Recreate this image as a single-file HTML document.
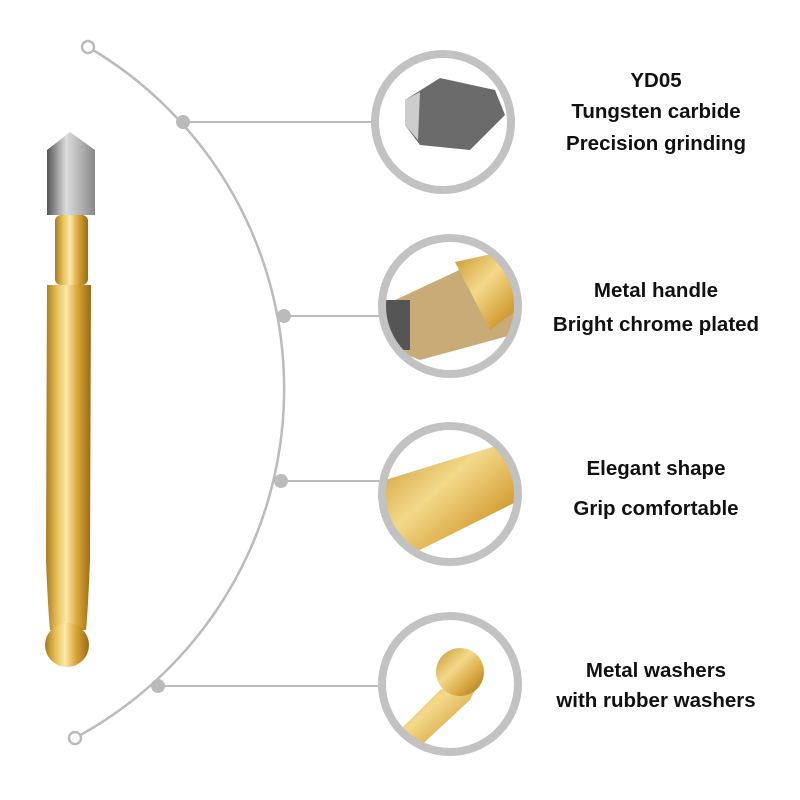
<!DOCTYPE html>
<html><head><meta charset="utf-8"><style>
html,body{margin:0;padding:0;background:#fff;width:800px;height:800px;overflow:hidden}
</style></head><body>
<svg width="800" height="800" viewBox="0 0 800 800" xmlns="http://www.w3.org/2000/svg">
<defs>
<linearGradient id="gold" x1="0" x2="1" y1="0" y2="0">
<stop offset="0" stop-color="#a87a1c"/><stop offset="0.25" stop-color="#e8c25a"/><stop offset="0.45" stop-color="#fbe9a8"/><stop offset="0.7" stop-color="#d9a53a"/><stop offset="1" stop-color="#9a6a12"/></linearGradient>
<linearGradient id="gold2" x1="0" x2="1" y1="0" y2="1">
<stop offset="0" stop-color="#c9962e"/><stop offset="0.4" stop-color="#f3d98a"/><stop offset="0.7" stop-color="#d8a640"/><stop offset="1" stop-color="#a27418"/></linearGradient>
<linearGradient id="steel" x1="0" x2="1"><stop offset="0" stop-color="#555"/><stop offset="0.4" stop-color="#ddd"/><stop offset="1" stop-color="#888"/></linearGradient>
<clipPath id="c1"><circle cx="443" cy="122" r="66"/></clipPath>
<clipPath id="c2"><circle cx="450" cy="306" r="66"/></clipPath>
<clipPath id="c3"><circle cx="450" cy="494" r="66"/></clipPath>
<clipPath id="c4"><circle cx="450" cy="684" r="66"/></clipPath>
</defs>
<path d="M88,47 A396,396 0 0 1 75,738" fill="none" stroke="#bbb" stroke-width="2.5"/>
<circle cx="88" cy="47" r="6" fill="#fff" stroke="#bbb" stroke-width="2.5"/>
<circle cx="75" cy="738" r="6" fill="#fff" stroke="#bbb" stroke-width="2.5"/>
<g stroke="#bbb" stroke-width="2">
<line x1="183" y1="122" x2="375" y2="122"/><line x1="284" y1="316" x2="380" y2="316"/>
<line x1="281" y1="481" x2="382" y2="481"/><line x1="158" y1="686" x2="382" y2="686"/></g>
<g fill="#bbb"><circle cx="183" cy="122" r="7"/><circle cx="284" cy="316" r="7"/><circle cx="281" cy="481" r="7"/><circle cx="158" cy="686" r="7"/></g>
<!-- pen -->
<path d="M47,150 L70,132 L95,150 L95,215 L47,215Z" fill="url(#steel)"/>
<rect x="55" y="215" width="33" height="70" rx="6" fill="url(#gold)"/>
<path d="M47,285 L91,285 L90,560 Q88,610 86,630 L50,630 Q48,610 46,560Z" fill="url(#gold)"/>
<circle cx="67" cy="645" r="22" fill="url(#gold)"/>
<!-- circles -->
<g clip-path="url(#c1)"><rect x="370" y="50" width="150" height="150" fill="#fff"/>
<path d="M405,100 L440,78 L495,90 L505,115 L470,150 L420,145 L405,125Z" fill="#6b6b6b"/><path d="M405,100 L420,92 L418,140 L405,125Z" fill="#ccc"/></g>
<circle cx="443" cy="122" r="68" fill="none" stroke="#c2c2c2" stroke-width="8"/>
<g clip-path="url(#c2)"><rect x="380" y="235" width="150" height="150" fill="#fff"/>
<path d="M395,300 L470,265 L530,270 L530,330 L420,360 L395,350Z" fill="#c9ab78"/><path d="M455,262 L510,250 L530,300 L490,330Z" fill="url(#gold2)"/><rect x="380" y="300" width="30" height="50" fill="#555"/></g>
<circle cx="450" cy="306" r="68" fill="none" stroke="#c2c2c2" stroke-width="8"/>
<g clip-path="url(#c3)"><rect x="380" y="425" width="150" height="150" fill="#fff"/>
<path d="M385,480 L515,440 L520,500 L400,560 L385,540Z" fill="url(#gold2)"/></g>
<circle cx="450" cy="494" r="68" fill="none" stroke="#c2c2c2" stroke-width="8"/>
<g clip-path="url(#c4)"><rect x="380" y="615" width="150" height="150" fill="#fff"/>
<path d="M385,745 L440,690 L480,680 L470,700 L400,765Z" fill="url(#gold2)"/><circle cx="460" cy="672" r="24" fill="url(#gold2)"/></g>
<circle cx="450" cy="684" r="68" fill="none" stroke="#c2c2c2" stroke-width="8"/>
<g font-family="Liberation Sans, sans-serif" font-weight="bold" font-size="20.5" fill="#111" text-anchor="middle">
<text x="656" y="87">YD05</text><text x="656" y="118">Tungsten carbide</text><text x="656" y="150">Precision grinding</text>
<text x="656" y="297">Metal handle</text><text x="656" y="331">Bright chrome plated</text>
<text x="656" y="475">Elegant shape</text><text x="656" y="515">Grip comfortable</text>
<text x="656" y="677">Metal washers</text><text x="656" y="707">with rubber washers</text></g>
</svg>
</body></html>
